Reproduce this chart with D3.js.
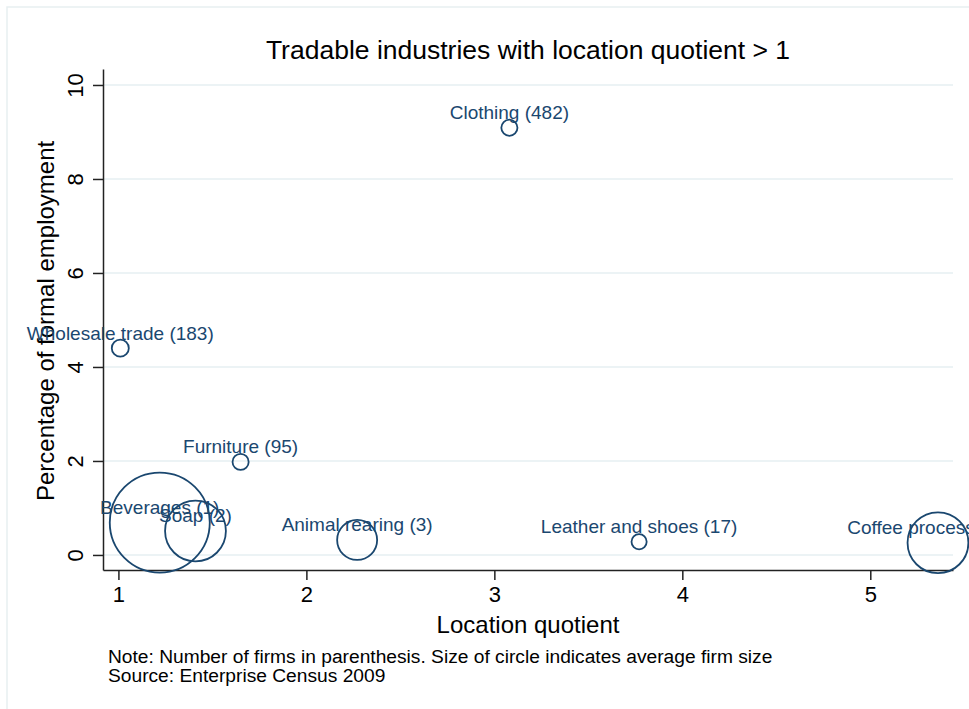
<!DOCTYPE html>
<html>
<head>
<meta charset="utf-8">
<script src="https://cdn.jsdelivr.net/npm/d3@7"></script>
<style>
  body { margin: 0; background: #fff; }
  svg { display: block; font-family: "Liberation Sans", Arial, Helvetica, sans-serif; }
  .axis path, .axis line { stroke: #222; stroke-width: 1.5; }
  .grid line { stroke: #e6eff2; stroke-width: 1.5; }
</style>
</head>
<body>
<div id="chart"></div>
<script>
// Tradable industries bubble chart (location quotient vs employment share)
var industries = ["Clothing", "Wholesale trade", "Furniture", "Beverages", "Soap",
                  "Animal rearing", "Leather and shoes", "Coffee processing"];
// number of firms; coffee's count is cut off at the right edge of the source, one digit assumed
var firmCounts = [482, 183, 95, 1, 2, 3, 17, 4];
var locationQuotient = [3.08, 1.01, 1.65, 1.22, 1.41, 2.27, 3.77, 5.36];
var employmentShare = [9.09, 4.40, 1.98, 0.69, 0.51, 0.32, 0.28, 0.26];
// average firm size, relative units read from circle areas
var avgFirmSize = [2.6, 2.9, 2.6, 100, 37, 16, 2.3, 37];
var xTicks = [1, 2, 3, 4, 5];
var yTicks = [0, 2, 4, 6, 8, 10];

var width = 969,
    height = 709,
    margin = {top: 69, right: 16, bottom: 139, left: 103};

var svg = d3.select("#chart").append("svg")
    .attr("width", width)
    .attr("height", height);

var data = industries.map(function(name, i) {
  return {
    name: name,
    firms: firmCounts[i],
    lq: locationQuotient[i],
    share: employmentShare[i],
    size: avgFirmSize[i]
  };
});

var x = d3.scaleLinear().domain([0.918, 5.44]).range([margin.left, width - margin.right]),
    y = d3.scaleLinear().domain([-0.32, 10.34]).range([height - margin.bottom, margin.top]),
    r = d3.scaleSqrt().domain([0, 100]).range([0, 50]);

var navy = "#1a476f";

// faint outer frame
svg.append("path")
    .attr("d", "M7," + height + "V7H" + width)
    .attr("fill", "none")
    .attr("stroke", "#e8eff1")
    .attr("stroke-width", 1.5);

svg.append("text")
    .attr("x", (x.range()[0] + x.range()[1]) / 2)
    .attr("y", 59)
    .attr("text-anchor", "middle")
    .attr("font-size", 26.5)
    .attr("fill", "#000")
    .text("Tradable industries with location quotient > 1");

// gridlines
svg.append("g")
    .attr("class", "grid")
    .selectAll("line")
    .data(yTicks)
    .enter().append("line")
      .attr("x1", x.range()[0])
      .attr("x2", x.range()[1])
      .attr("y1", function(d) { return y(d); })
      .attr("y2", function(d) { return y(d); });

var yAxis = svg.append("g")
    .attr("class", "axis axis--y")
    .attr("transform", "translate(" + margin.left + ",0)")
    .call(d3.axisLeft(y).tickValues(yTicks).tickSize(10).tickSizeOuter(0).tickPadding(12));
yAxis.selectAll("text")
    .attr("font-size", 22)
    .attr("fill", "#000")
    .attr("text-anchor", "middle")
    .attr("dy", null)
    .attr("x", null)
    .attr("transform", "translate(-28,0) rotate(-90) translate(0,8)");
yAxis.append("text")
    .attr("transform", "translate(-49," + y(4.98) + ") rotate(-90)")
    .attr("text-anchor", "middle")
    .attr("font-size", 24)
    .attr("fill", "#000")
    .text("Percentage of formal employment");

var xAxis = svg.append("g")
    .attr("class", "axis axis--x")
    .attr("transform", "translate(0," + (height - margin.bottom) + ")")
    .call(d3.axisBottom(x).tickValues(xTicks).tickFormat(d3.format("d"))
      .tickSize(10).tickSizeOuter(0).tickPadding(6));
xAxis.selectAll("text")
    .attr("font-size", 22)
    .attr("fill", "#000");
xAxis.append("text")
    .attr("x", (x.range()[0] + x.range()[1]) / 2)
    .attr("y", 63)
    .attr("text-anchor", "middle")
    .attr("font-size", 24)
    .attr("fill", "#000")
    .text("Location quotient");

var point = svg.selectAll(".industry")
    .data(data)
    .enter().append("g")
      .attr("class", "industry");

point.append("circle")
    .attr("cx", function(d) { return x(d.lq); })
    .attr("cy", function(d) { return y(d.share); })
    .attr("r", function(d) { return r(d.size); })
    .attr("fill", "none")
    .attr("stroke", navy)
    .attr("stroke-width", 1.8);

point.append("text")
    .attr("x", function(d) { return x(d.lq); })
    .attr("y", function(d) { return y(d.share) - 8.5; })
    .attr("text-anchor", "middle")
    .attr("font-size", 19)
    .attr("fill", navy)
    .text(function(d) { return d.name + " (" + d.firms + ")"; });

var notes = ["Note: Number of firms in parenthesis. Size of circle indicates average firm size",
             "Source: Enterprise Census 2009"];
svg.append("g").selectAll("text")
    .data(notes)
    .enter().append("text")
      .attr("x", 108)
      .attr("y", function(d, i) { return 663 + i * 19; })
      .attr("font-size", 19.2)
      .attr("fill", "#000")
      .text(function(d) { return d; });
</script>
</body>
</html>
